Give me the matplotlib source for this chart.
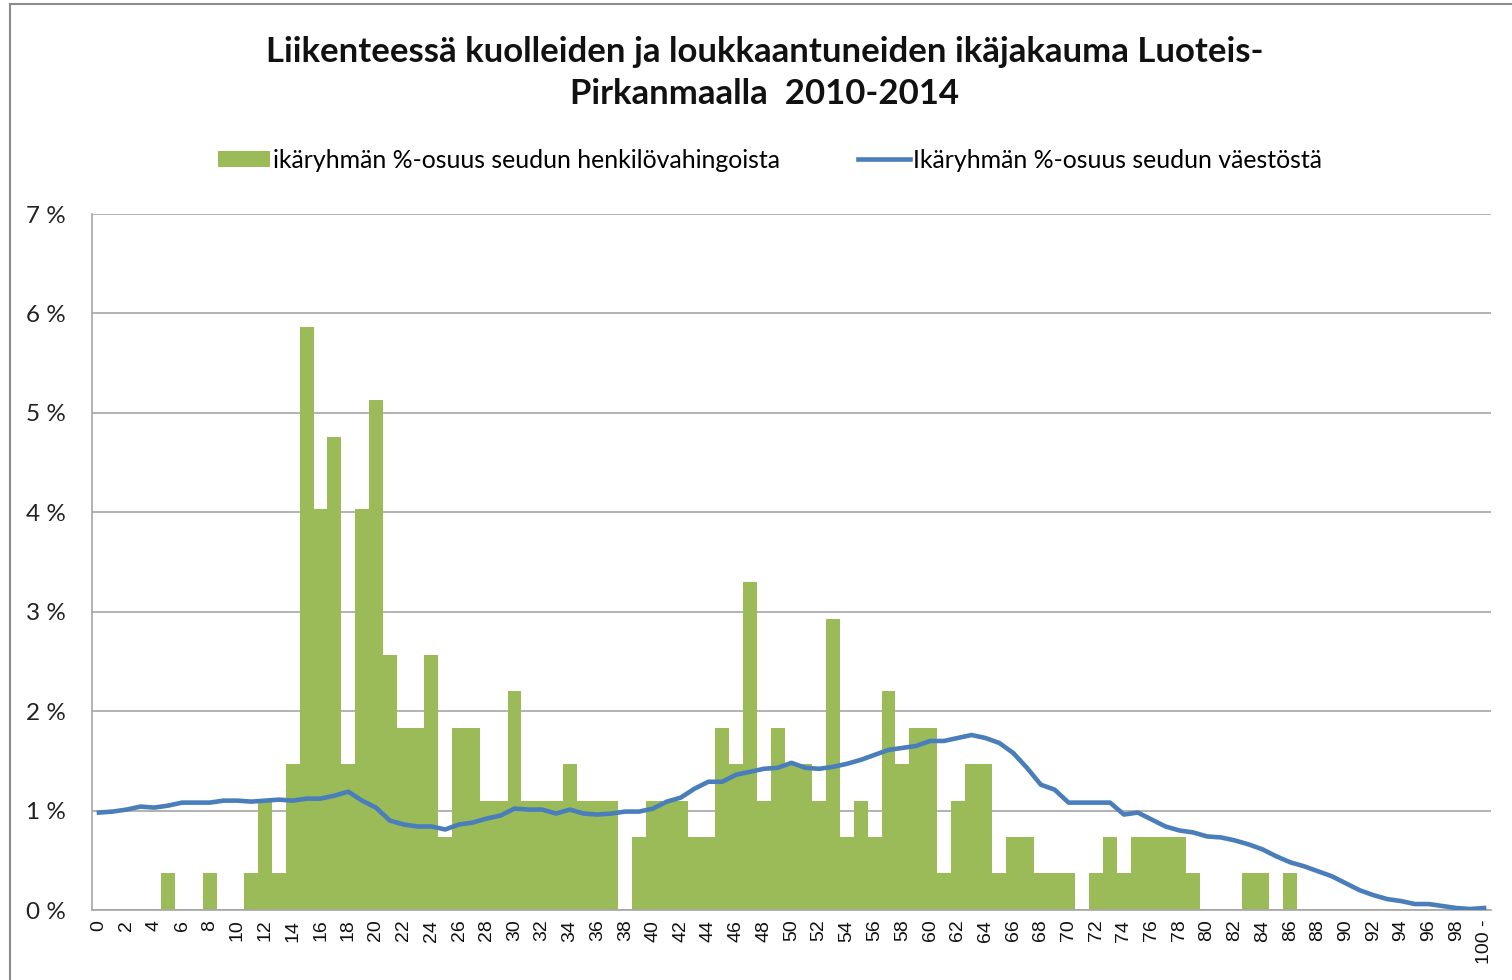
import numpy as np
import matplotlib.pyplot as plt
from matplotlib.patches import Rectangle

# ── Data ───────────────────────────────────────────────────
ages = [str(a) for a in range(100)] + ['100 -']

# ikäryhmän %-osuus seudun henkilövahingoista (bars), ages 0..100-
injured_pct = [
    0, 0, 0, 0, 0, 0.37, 0, 0, 0.37, 0,                     # 0-9
    0, 0.37, 1.10, 0.37, 1.47, 5.86, 4.03, 4.76, 1.47, 4.03,  # 10-19
    5.13, 2.56, 1.83, 1.83, 2.56, 0.73, 1.83, 1.83, 1.10, 1.10,  # 20-29
    2.20, 1.10, 1.10, 1.10, 1.47, 1.10, 1.10, 1.10, 0, 0.73,  # 30-39
    1.10, 1.10, 1.10, 0.73, 0.73, 1.83, 1.47, 3.30, 1.10, 1.83,  # 40-49
    1.47, 1.47, 1.10, 2.93, 0.73, 1.10, 0.73, 2.20, 1.47, 1.83,  # 50-59
    1.83, 0.37, 1.10, 1.47, 1.47, 0.37, 0.73, 0.73, 0.37, 0.37,  # 60-69
    0.37, 0, 0.37, 0.73, 0.37, 0.73, 0.73, 0.73, 0.73, 0.37,  # 70-79
    0, 0, 0, 0.37, 0.37, 0, 0.37, 0, 0, 0,                   # 80-89
    0, 0, 0, 0, 0, 0, 0, 0, 0, 0,                            # 90-99
    0,                                                       # 100-
]

# Ikäryhmän %-osuus seudun väestöstä (line)
population_pct = [
    0.98, 0.99, 1.01, 1.04, 1.03, 1.05, 1.08, 1.08, 1.08, 1.10,  # 0-9
    1.10, 1.09, 1.10, 1.11, 1.10, 1.12, 1.12, 1.15, 1.19, 1.10,  # 10-19
    1.03, 0.90, 0.86, 0.84, 0.84, 0.81, 0.86, 0.88, 0.92, 0.95,  # 20-29
    1.02, 1.01, 1.01, 0.97, 1.01, 0.97, 0.96, 0.97, 0.99, 0.99,  # 30-39
    1.02, 1.09, 1.13, 1.22, 1.29, 1.29, 1.36, 1.39, 1.42, 1.43,  # 40-49
    1.48, 1.43, 1.42, 1.44, 1.47, 1.51, 1.56, 1.61, 1.63, 1.65,  # 50-59
    1.70, 1.70, 1.73, 1.76, 1.73, 1.68, 1.58, 1.43, 1.26, 1.21,  # 60-69
    1.08, 1.08, 1.08, 1.08, 0.96, 0.98, 0.91, 0.84, 0.80, 0.78,  # 70-79
    0.74, 0.73, 0.70, 0.66, 0.61, 0.54, 0.48, 0.44, 0.39, 0.34,  # 80-89
    0.27, 0.20, 0.15, 0.11, 0.09, 0.06, 0.06, 0.04, 0.02, 0.01,  # 90-99
    0.02,                                                       # 100-
]

title = ('Liikenteessä kuolleiden ja loukkaantuneiden ikäjakauma Luoteis-\n'
         'Pirkanmaalla  2010-2014')
bar_label = 'ikäryhmän %-osuus seudun henkilövahingoista'
line_label = 'Ikäryhmän %-osuus seudun väestöstä'

# ── Plot ───────────────────────────────────────────────────
GREEN = '#9BBB59'
BLUE = '#4A7EBB'
GRID = '#A6A6A6'

plt.rcParams['font.family'] = ['Lato', 'DejaVu Sans']

fig = plt.figure(figsize=(15.12, 9.8), dpi=100)

# chart area border (Excel-like)
fig.patches.append(Rectangle((10 / 1512, -0.05), 1.2, 1.05 - 4 / 980,
                             transform=fig.transFigure, fill=False,
                             edgecolor='#8C8C8C', linewidth=1.5))

ax = fig.add_axes([92 / 1512, 70 / 980, (1491 - 92) / 1512, (910 - 214) / 980])

x = np.arange(len(ages))
bars = ax.bar(x, injured_pct, width=1.0, color=GREEN, linewidth=0, label=bar_label, zorder=2)
line, = ax.plot(x, population_pct, color=BLUE, linewidth=3.3, label=line_label, zorder=3)

ax.set_xlim(-0.5, len(ages) - 0.5)
ax.set_ylim(0, 7)
ax.set_yticks(range(0, 8))
ax.set_yticklabels([f'{v} %' for v in range(0, 8)], fontsize=17.5, color='#222222')
ax.tick_params(axis='y', length=0, pad=19)

ax.set_xticks(x[::2])
ax.set_xticklabels(ages[::2], rotation=90, fontsize=14,
                   family='Liberation Sans', color='#111111')
ax.tick_params(axis='x', length=0, pad=7)

ax.grid(axis='y', color=GRID, linewidth=1.2, zorder=0)
ax.set_axisbelow(True)
for side in ['top', 'right']:
    ax.spines[side].set_visible(False)
for side in ['left', 'bottom']:
    ax.spines[side].set_color(GRID)
    ax.spines[side].set_linewidth(1.2)

fig.text(765 / 1512, 1 - 73 / 980, title, ha='center', va='center',
         fontsize=25, fontweight='bold', linespacing=1.4, color='#111111')

fig.legend(handles=[bars, line], loc='center',
           bbox_to_anchor=(770 / 1512, 1 - 160 / 980), ncol=2,
           frameon=False, fontsize=17.9, handlelength=2.1, handletextpad=0.15,
           columnspacing=3.1, handleheight=0.6)

plt.savefig('out.png', dpi=100)
